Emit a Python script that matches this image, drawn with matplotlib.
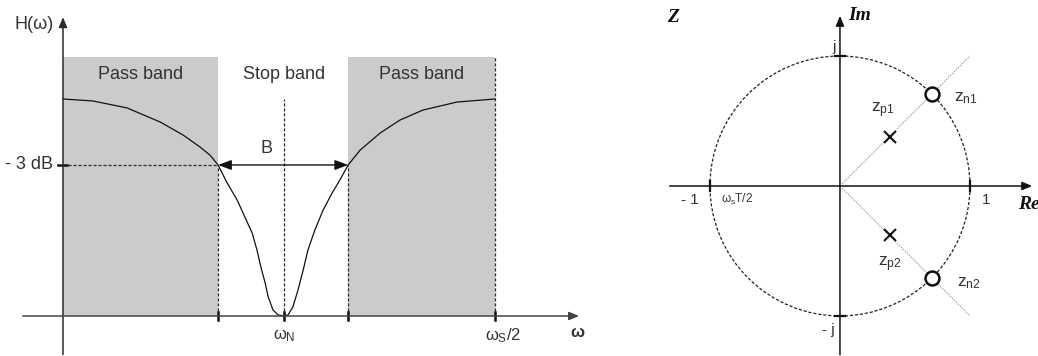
import numpy as np
import matplotlib
matplotlib.use('Agg')
import matplotlib.pyplot as plt
from matplotlib.patches import Rectangle, Circle

plt.rcParams['font.family'] = ['Liberation Sans', 'DejaVu Sans']
plt.rcParams['mathtext.fontset'] = 'custom'
plt.rcParams['mathtext.rm'] = 'Liberation Sans'
plt.rcParams['mathtext.it'] = 'Liberation Sans'

# --- notch filter magnitude response (omega normalised so that ws/2 = 1) ---
omega = [0.000, 0.069, 0.148, 0.225, 0.278, 0.317, 0.340, 0.359,
         0.380, 0.403, 0.421, 0.438, 0.449, 0.458, 0.468, 0.475, 0.486, 0.498,
         0.512,
         0.521, 0.532, 0.544, 0.556, 0.567, 0.583, 0.602, 0.623, 0.641, 0.660,
         0.688, 0.734, 0.780, 0.833, 0.912, 1.000]
H = [1.000, 0.991, 0.959, 0.894, 0.834, 0.779, 0.742, 0.696,
     0.613, 0.535, 0.456, 0.382, 0.304, 0.226, 0.152, 0.088, 0.028, 0.005,
     0.000,
     0.005, 0.041, 0.120, 0.212, 0.304, 0.396, 0.488, 0.567, 0.627, 0.696,
     0.765, 0.843, 0.903, 0.949, 0.986, 1.000]

w_low = 0.359      # -3 dB edges
w_high = 0.660
w_notch = 0.512
h_3db = 0.696
band_top = 1.194

# --- z-plane ---
zeros_re = [0.707, 0.707]
zeros_im = [0.707, -0.707]
poles_re = [0.385, 0.385]
poles_im = [0.380, -0.380]

TXT = '#333333'
LN = '#2a2a2a'

fig = plt.figure(figsize=(10.38, 3.56), dpi=100)

# ================= left: frequency response =================
ax = fig.add_axes([0, 0, 640 / 1038, 1])
ax.set_xlim(-0.1458, 1.3356)
ax.set_ylim(-0.1843, 1.4562)
ax.axis('off')

ax.add_patch(Rectangle((0, 0), w_low, band_top, color='#cbcbcb', lw=0, zorder=0))
ax.add_patch(Rectangle((w_high, 0), 1.0 - w_high, band_top, color='#cbcbcb', lw=0, zorder=0))

# axes with arrows
ax.annotate('', xy=(0, 1.39), xytext=(0, -0.19),
            arrowprops=dict(arrowstyle='-|>,head_length=0.6,head_width=0.25', color=LN, lw=1.1))
ax.annotate('', xy=(1.201, 0), xytext=(-0.0995, 0),
            arrowprops=dict(arrowstyle='-|>,head_length=0.6,head_width=0.25', color='#444444', lw=1.1))

dash = dict(color=LN, lw=0.9, ls=(0, (2.5, 1.5)))
ax.plot([0, w_low], [h_3db, h_3db], **dash)
ax.plot([w_low, w_low], [0, h_3db], **dash)
ax.plot([w_high, w_high], [0, h_3db], **dash)
ax.plot([w_notch, w_notch], [0, 1.0], **dash)
ax.plot([1.0, 1.0], [0, band_top], **dash)

for xt in [w_low, w_notch, w_high, 1.0]:
    ax.plot([xt, xt], [-0.018, 0.018], color='#111111', lw=1.8)
ax.plot([-0.012, 0.01], [h_3db, h_3db], color='#111111', lw=1.8)

ax.plot(omega, H, color='#111111', lw=0.9)

ax.annotate('', xy=(w_low, h_3db), xytext=(w_high, h_3db),
            arrowprops=dict(arrowstyle='<|-|>,head_length=0.8,head_width=0.3',
                            color='#111111', lw=1.0, shrinkA=0, shrinkB=0))

fs = 13
ax.text(w_low / 2, 1.111, 'Pass band', ha='center', va='center', fontsize=fs, color=TXT)
ax.text(w_notch, 1.111, 'Stop band', ha='center', va='center', fontsize=fs, color=TXT)
ax.text((w_high + 1.0) / 2, 1.111, 'Pass band', ha='center', va='center', fontsize=fs, color=TXT)
ax.text(-0.067, 1.341, 'H(ω)', ha='center', va='center', fontsize=fs, color=TXT)
ax.text(-0.022, h_3db, '- 3 dB', ha='right', va='center', fontsize=fs, color=TXT)
ax.text(0.470, 0.77, 'B', ha='center', va='center', fontsize=fs, color=TXT)
ax.text(w_notch, -0.092, r'$\omega_{\mathrm{N}}$', ha='center', va='center', fontsize=12, color=TXT)
ax.text(1.019, -0.092, r'$\omega_{\mathrm{S}}/2$', ha='center', va='center', fontsize=12, color=TXT)
ax.text(1.19, -0.078, 'ω', ha='center', va='center', fontsize=12, color=TXT, fontweight='bold')

# ================= right: z-plane =================
az = fig.add_axes([640 / 1038, 0, 398 / 1038, 1])
az.set_xlim(-1.538, 1.523)
az.set_ylim(-1.308, 1.431)
az.axis('off')

az.add_patch(Circle((0, 0), 1.0, fill=False, ec='#222222', lw=0.9, ls=(0, (2.5, 1.5))))
az.plot([0, 1.0], [0, 1.0], color='#a5a5a5', lw=0.8, ls=(0, (1.5, 1)))
az.plot([0, 1.0], [0, -1.0], color='#a5a5a5', lw=0.8, ls=(0, (1.5, 1)))

az.annotate('', xy=(1.5, 0), xytext=(-1.331, 0),
            arrowprops=dict(arrowstyle='-|>,head_length=0.6,head_width=0.25', color='#111111', lw=1.1))
az.annotate('', xy=(0, 1.331), xytext=(0, -1.32),
            arrowprops=dict(arrowstyle='-|>,head_length=0.6,head_width=0.25', color='#111111', lw=1.1))

for xt in [-1.0, 1.0]:
    az.plot([xt, xt], [-0.035, 0.035], color='#111111', lw=1.6)
for yt in [-1.0, 1.0]:
    az.plot([-0.035, 0.035], [yt, yt], color='#111111', lw=1.6)

az.plot(zeros_re, zeros_im, 'o', ms=10, mfc='white', mec='#111111', mew=1.8)
az.plot(poles_re, poles_im, 'x', ms=9, mec='#111111', mew=1.5)

serif = dict(family=['Liberation Serif', 'DejaVu Serif'], fontweight='bold', fontstyle='italic',
             fontsize=14, color='#111111')
az.text(-1.285, 1.30, 'Z', ha='center', va='center', **serif)
az.text(0.062, 1.315, 'Im', ha='left', va='center', **serif)
az.text(1.37, -0.146, 'Re', ha='left', va='center', **serif)

sfs = 12.5
az.text(0.331, 0.585, r'$\mathregular{z_{p1}}$', ha='center', va='center', fontsize=sfs, color=TXT)
az.text(0.965, 0.677, r'$\mathregular{z_{n1}}$', ha='center', va='center', fontsize=sfs, color=TXT)
az.text(0.385, -0.60, r'$\mathregular{z_{p2}}$', ha='center', va='center', fontsize=sfs, color=TXT)
az.text(0.99, -0.746, r'$\mathregular{z_{n2}}$', ha='center', va='center', fontsize=sfs, color=TXT)
az.text(-0.046, 1.069, 'j', ha='center', va='center', fontsize=11, color=TXT)
az.text(-0.09, -1.108, '- j', ha='center', va='center', fontsize=11, color=TXT)
az.text(-1.154, -0.105, '- 1', ha='center', va='center', fontsize=11, color=TXT)
az.text(1.123, -0.105, '1', ha='center', va='center', fontsize=11, color=TXT)
az.text(-0.915, -0.105, r'$\omega_{\mathrm{s}}$T/2', ha='left', va='center', fontsize=8.5, color=TXT)

fig.savefig('out.png', dpi=100, facecolor='white')
